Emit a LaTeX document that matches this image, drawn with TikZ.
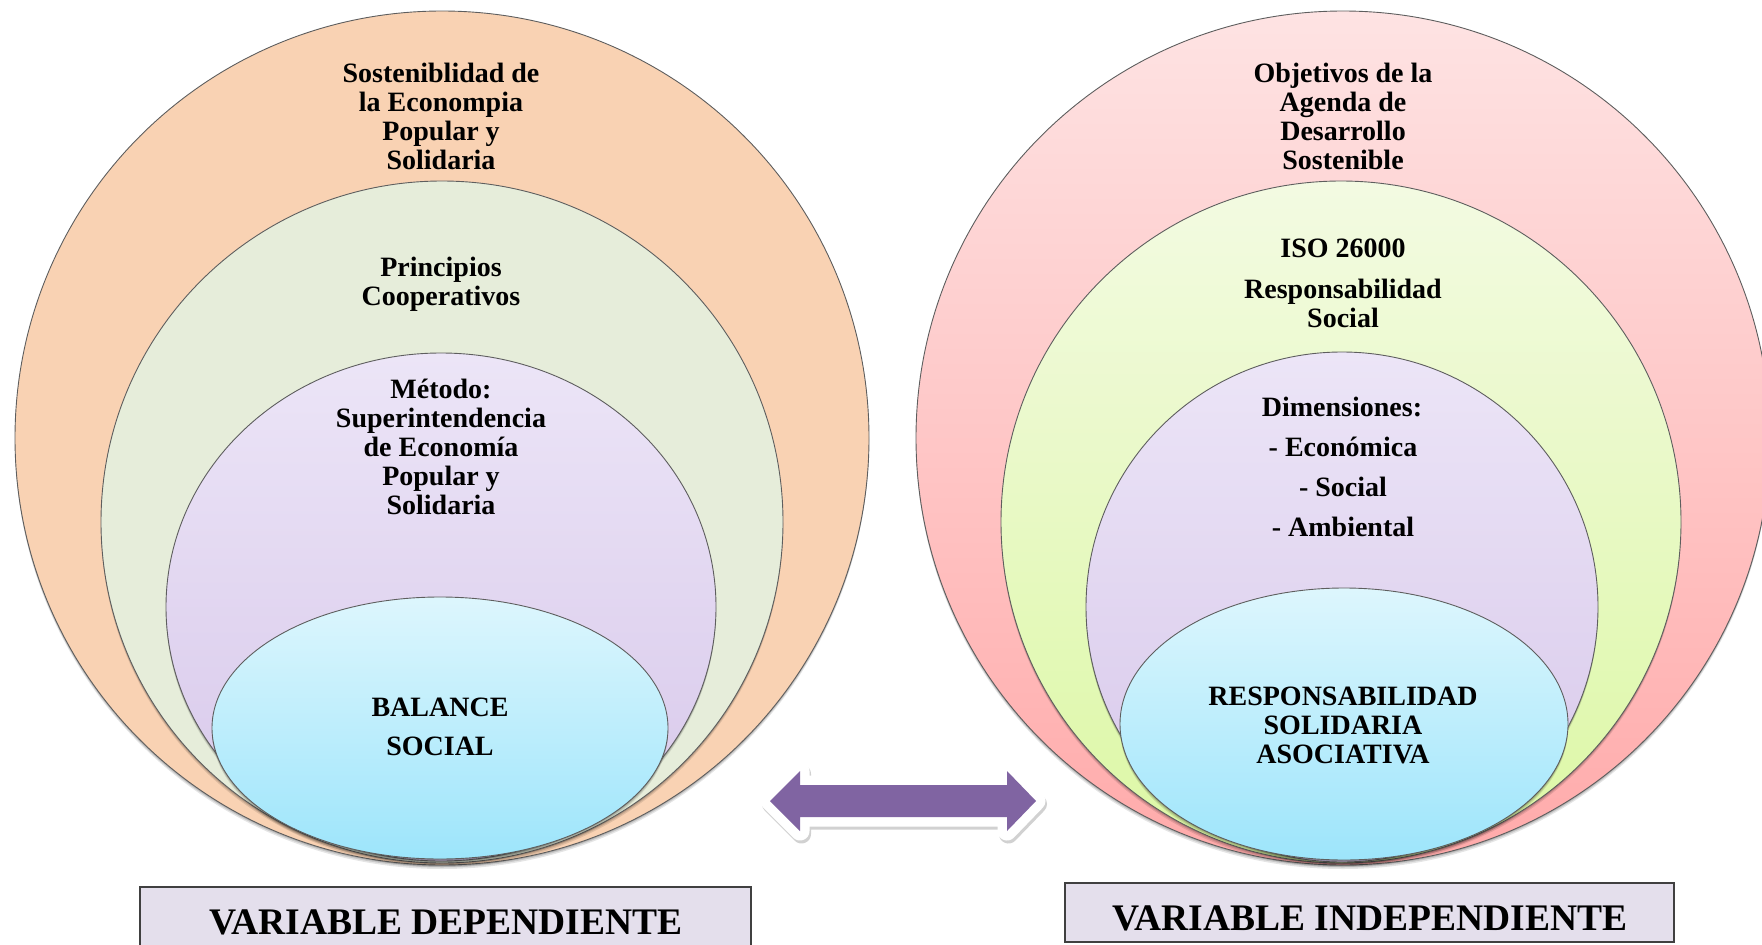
\documentclass[tikz,border=0pt]{standalone}
\usepackage{fontspec}
\setmainfont{Liberation Serif}
\definecolor{peach}{HTML}{F9D2B3}
\definecolor{oliveL}{HTML}{E6EDDA}
\definecolor{lavTop}{HTML}{ECE5F7}
\definecolor{lavBot}{HTML}{D7C7EA}
\definecolor{cyTop}{HTML}{DDF6FD}
\definecolor{cyBot}{HTML}{9DE5FB}
\definecolor{pinkTop}{HTML}{FEE3E3}
\definecolor{pinkBot}{HTML}{FFAAAA}
\definecolor{limeTop}{HTML}{F3FAE2}
\definecolor{limeBot}{HTML}{DCF8A4}
\definecolor{ringline}{HTML}{5E5E5E}
\definecolor{boxfill}{HTML}{E4DFEC}
\definecolor{boxline}{HTML}{404040}
\definecolor{arrowpurple}{HTML}{8064A2}
\tikzset{
  ring/.style={draw=ringline, line width=0.9pt,
    preaction={fill=black, opacity=0.10, transform canvas={yshift=-4pt}},
    preaction={fill=black, opacity=0.12, transform canvas={yshift=-2.5pt}},
    preaction={fill=black, opacity=0.15, transform canvas={yshift=-1.2pt}}},
  txt/.style={font=\bfseries\fontsize{28}{29}\selectfont, align=center, inner sep=0pt},
  vlabel/.style={draw=boxline, line width=1.4pt, fill=boxfill},
  vtext/.style={font=\bfseries\fontsize{37.5}{40}\selectfont, inner sep=0pt}
}
\begin{document}
\begin{tikzpicture}[x=1pt,y=-1pt]
\useasboundingbox (0,0) rectangle (1762,945);

% ---------- left diagram ----------
\draw[ring, fill=peach] (442,438) ellipse [x radius=427pt, y radius=427pt];
\draw[ring, fill=oliveL] (442,522) ellipse [x radius=341pt, y radius=341pt];
\draw[ring, top color=lavTop, bottom color=lavBot] (441,607) ellipse [x radius=275pt, y radius=254pt];
\draw[ring, top color=cyTop, bottom color=cyBot] (440,728) ellipse [x radius=228pt, y radius=131pt];

\node[txt] (l1) at (441,116) {Sosteniblidad de\\la Econompia\\Popular y\\Solidaria};
\node[txt] (l2) at (441,284) {Principios\\Cooperativos};
\node[txt] (l3) at (441,447) {Método:\\Superintendencia\\de Economía\\Popular y\\Solidaria};
\node[txt] (l4) at (440,727) {BALANCE\\[10pt]SOCIAL};

% ---------- right diagram ----------
\draw[ring, top color=pinkTop, bottom color=pinkBot] (1343,438) ellipse [x radius=427pt, y radius=427pt];
\draw[ring, top color=limeTop, bottom color=limeBot] (1341,522) ellipse [x radius=340pt, y radius=341pt];
\draw[ring, top color=lavTop, bottom color=lavBot] (1342,607) ellipse [x radius=256pt, y radius=255pt];
\draw[ring, top color=cyTop, bottom color=cyBot] (1344,724) ellipse [x radius=224pt, y radius=136pt];

\node[txt] (r1) at (1343,116) {Objetivos de la\\Agenda de\\Desarrollo\\Sostenible};
\node[txt] (r2) at (1343,283) {ISO 26000\\[12pt]Responsabilidad\\Social};
\node[txt] (r3a) at (1342,407) {Dimensiones:};
\node[txt] (r3b) at (1343,487) {- Económica\\[11pt]- Social\\[11pt]- Ambiental};
\node[txt] (r4) at (1343,725) {RESPONSABILIDAD\\SOLIDARIA\\ASOCIATIVA};

% ---------- double arrow ----------
\coordinate (tipL) at (770,801);
\coordinate (tipR) at (1036,801);
\coordinate (bLt) at (800,771);
\coordinate (bLs) at (800,785);
\coordinate (bRs) at (1007,785);
\coordinate (bRt) at (1007,771);
\coordinate (bRb) at (1007,831);
\coordinate (bRsb) at (1007,817);
\coordinate (bLsb) at (800,817);
\coordinate (bLb) at (800,831);
\draw[white, line width=19pt, line join=round, fill=white,
  preaction={draw=black, line width=19pt, line join=round, opacity=0.18, transform canvas={xshift=1.5pt, yshift=-3pt}}]
  (tipL) -- (bLt) -- (bLs) -- (bRs) -- (bRt) -- (tipR) -- (bRb) -- (bRsb) -- (bLsb) -- (bLb) -- cycle;
\fill[arrowpurple]
  (tipL) -- (bLt) -- (bLs) -- (bRs) -- (bRt) -- (tipR) -- (bRb) -- (bRsb) -- (bLsb) -- (bLb) -- cycle;

% ---------- bottom labels ----------
\draw[vlabel] (140,887) rectangle (751,965);
\node[vtext] (vd) at (446,922) {VARIABLE DEPENDIENTE};
\draw[vlabel] (1065,883) rectangle (1674,942);
\node[vtext] (vi) at (1370,918) {VARIABLE INDEPENDIENTE};
\end{tikzpicture}
\end{document}
